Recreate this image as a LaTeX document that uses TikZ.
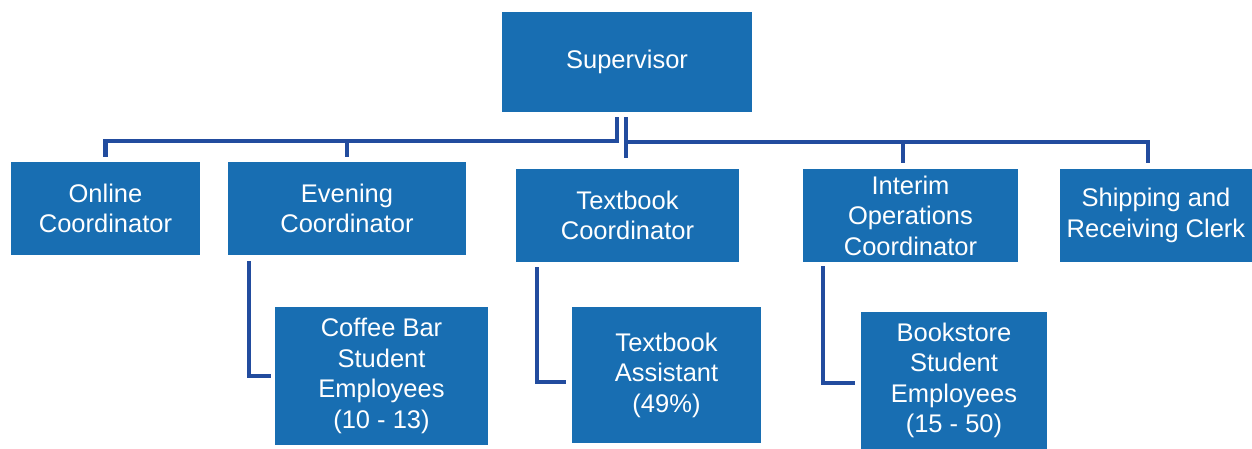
\documentclass[tikz,border=0pt]{standalone}
\usepackage{fontspec}
\setmainfont{Liberation Sans}
\definecolor{boxblue}{RGB}{24,110,178}
\definecolor{lineblue}{RGB}{34,76,158}
\begin{document}
\begin{tikzpicture}[x=1pt,y=-1pt,
  orgbox/.style={fill=boxblue,draw=none,text=white,align=center,inner sep=0pt,
    font=\fontsize{25.5}{30.5}\selectfont},
  conn/.style={draw=lineblue,line width=4.5pt,line join=miter}]
\useasboundingbox (0,0) rectangle (1252,449);
\node[orgbox,minimum width=250pt,minimum height=100pt] (sup) at (627,62) {Supervisor};
\node[orgbox,minimum width=189pt,minimum height=93pt] (online) at (105.5,208.5) {Online\\Coordinator};
\node[orgbox,minimum width=238pt,minimum height=93pt] (evening) at (347,208.5) {Evening\\Coordinator};
\node[orgbox,minimum width=223pt,minimum height=93pt] (textc) at (627.5,215.5) {Textbook\\Coordinator};
\node[orgbox,minimum width=215pt,minimum height=93pt] (interim) at (910.5,215.5) {Interim\\Operations\\Coordinator};
\node[orgbox,minimum width=192pt,minimum height=93pt] (ship) at (1156,215.5) {Shipping and\\Receiving Clerk};
\node[orgbox,minimum width=213pt,minimum height=138pt] (coffee) at (381.5,376) {Coffee Bar\\Student\\Employees\\(10 - 13)};
\node[orgbox,minimum width=189pt,minimum height=136pt] (ta) at (666.5,375) {Textbook\\Assistant\\(49\%)};
\node[orgbox,minimum width=186pt,minimum height=137pt] (book) at (954,380.5) {Bookstore\\Student\\Employees\\(15 - 50)};
% bus junctions
\coordinate (lb) at (617,141);
\coordinate (rb) at (626,142);
\coordinate (ev) at (347,141);
\coordinate (im) at (903,142);
\coordinate (ec) at (249,376);
\coordinate (tc) at (537,382);
\coordinate (ic) at (823,383);
% left bus
\draw[conn] ([yshift=-5pt]sup.south -| lb) -- (lb) -| ([yshift=5pt]online.north);
\draw[conn] (ev) -- ([yshift=5pt]evening.north);
% right bus
\draw[conn] ([yshift=-5pt]sup.south -| rb) -- ([yshift=11pt]textc.north -| rb);
\draw[conn] (rb) -| ([yshift=6pt]ship.north -| 1148,0);
\draw[conn] (im) -- ([yshift=6pt]interim.north -| im);
% sub connectors
\draw[conn] ([yshift=-6pt]evening.south -| ec) -- (ec) -- ([xshift=-4pt]coffee.west |- ec);
\draw[conn] ([yshift=-5pt]textc.south -| tc) -- (tc) -- ([xshift=-6pt]ta.west |- tc);
\draw[conn] ([yshift=-4pt]interim.south -| ic) -- (ic) -- ([xshift=-6pt]book.west |- ic);
\end{tikzpicture}
\end{document}
